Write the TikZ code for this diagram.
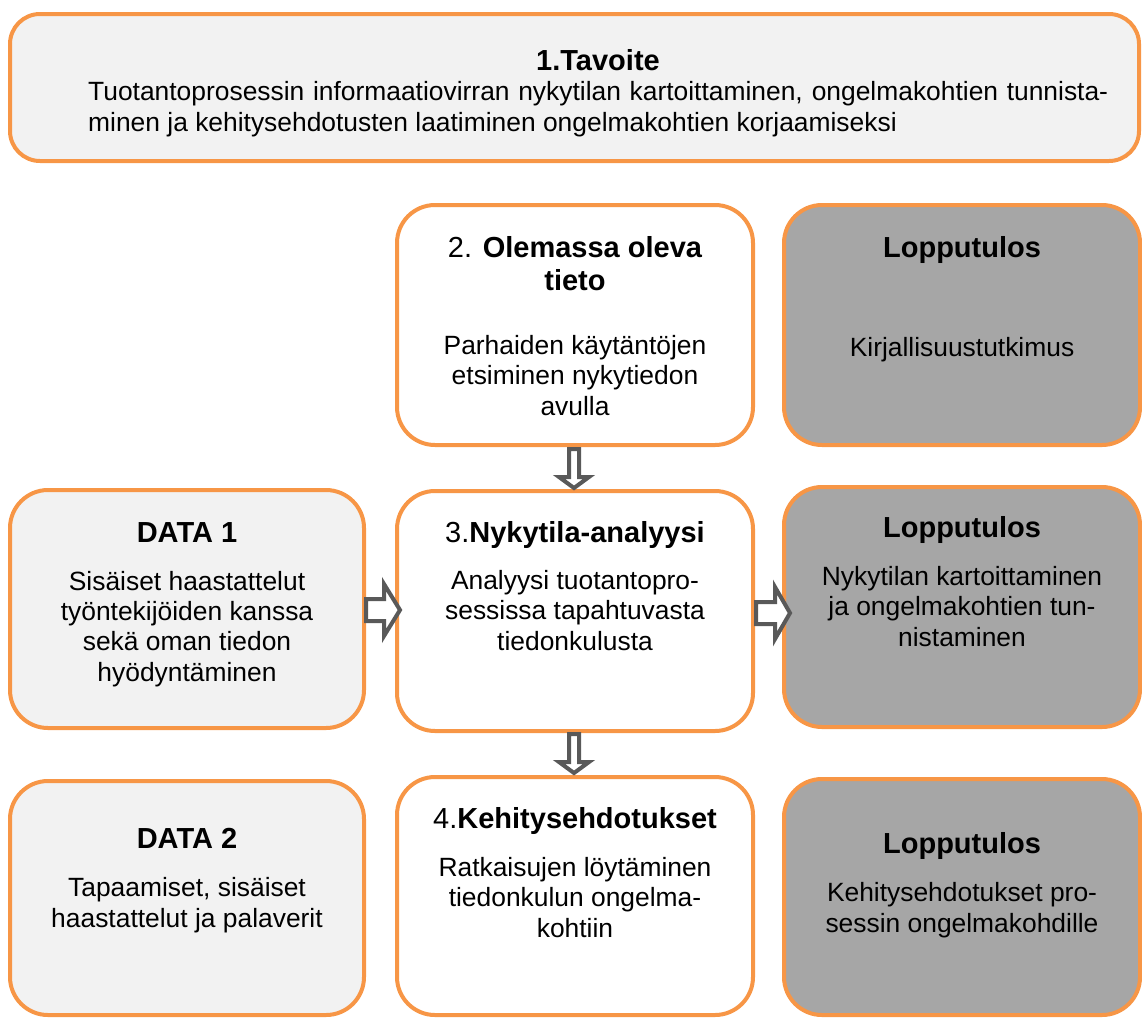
\documentclass[tikz,border=0pt]{standalone}
\usepackage{fontspec}
\setmainfont{Liberation Sans}
\usetikzlibrary{calc}
\definecolor{orng}{HTML}{F79646}
\definecolor{lightfill}{HTML}{F2F2F2}
\definecolor{darkfill}{HTML}{A6A6A6}
\definecolor{arrowgray}{HTML}{595959}
\tikzset{
  box/.style={draw=orng, line width=4pt, rounded corners=38pt, rectangle, inner sep=0pt},
  boxdata/.style={box, fill=lightfill},
  boxstep/.style={box, fill=white},
  boxres/.style={box, fill=darkfill},
  head/.style={anchor=base, align=center, inner sep=0pt, font=\fontsize{29}{33}\selectfont\bfseries},
  body/.style={anchor=base, align=center, inner sep=0pt, font=\fontsize{26.4}{30.3}\selectfont},
  blockarrow/.style={draw=arrowgray, fill=white, line width=4pt, line join=miter}
}
\begin{document}
\begin{tikzpicture}[x=1pt, y=-1pt]
\useasboundingbox (0,0) rectangle (1142,1018);
% boxes
\node[boxdata, rounded corners=30pt, minimum width=1129pt, minimum height=147pt] (top) at (574.5,87.5) {};
\node[boxstep, minimum width=356pt, minimum height=240pt] (b2) at (575,325) {};
\node[boxres,  minimum width=356pt, minimum height=240pt] (l1) at (962,325) {};
\node[boxdata, minimum width=354pt, minimum height=238pt] (d1) at (187,609) {};
\node[boxstep, minimum width=356pt, minimum height=240pt] (b3) at (575,611) {};
\node[boxres,  minimum width=356pt, minimum height=240pt] (l2) at (962,607) {};
\node[boxdata, minimum width=354pt, minimum height=234pt] (d2) at (187,898) {};
\node[boxstep, minimum width=356pt, minimum height=238pt] (b4) at (575,896) {};
\node[boxres,  minimum width=356pt, minimum height=236pt] (l3) at (962,897) {};
% texts (multi-line nodes: base anchor = baseline of the last line)
\node[head] (toph) at (598,70) {1.Tavoite};
\node[body, anchor=base west] (topb1) at (88,100) {\makebox[1020pt][s]{Tuotantoprosessin informaatiovirran nykytilan kartoittaminen, ongelmakohtien tunnista-}};
\node[body, anchor=base west] (topb2) at (88,131) {minen ja kehitysehdotusten laatiminen ongelmakohtien korjaamiseksi};
\node[head] (b2h) at (575,290) {{\mdseries 2.} Olemassa oleva\\tieto};
\node[body] (b2b) at (575,415) {Parhaiden käytäntöjen\\etsiminen nykytiedon\\avulla};
\node[head] (l1h) at (962,257) {Lopputulos};
\node[body] (l1b) at (962,356) {Kirjallisuustutkimus};
\node[head] (d1h) at (187,542) {DATA 1};
\node[body] (d1b) at (187,681) {Sisäiset haastattelut\\työntekijöiden kanssa\\sekä oman tiedon\\hyödyntäminen};
\node[head] (b3h) at (575,542) {{\mdseries 3.}Nykytila-analyysi};
\node[body] (b3b) at (575,650) {Analyysi tuotantopro-\\sessissa tapahtuvasta\\tiedonkulusta};
\node[head] (l2h) at (962,537) {Lopputulos};
\node[body] (l2b) at (962,646) {Nykytilan kartoittaminen\\ja ongelmakohtien tun-\\nistaminen};
\node[head] (d2h) at (187,848) {DATA 2};
\node[body] (d2b) at (187,927) {Tapaamiset, sisäiset\\haastattelut ja palaverit};
\node[head] (b4h) at (575,828) {{\mdseries 4.}Kehitysehdotukset};
\node[body] (b4b) at (575,937) {Ratkaisujen löytäminen\\tiedonkulun ongelma-\\kohtiin};
\node[head] (l3h) at (962,853) {Lopputulos};
\node[body] (l3b) at (962,932) {Kehitysehdotukset pro-\\sessin ongelmakohdille};
% block arrows
\draw[blockarrow] ($(b2.south)+(-6,2)$) -- ($(b2.south)+(-6,30)$) -- ($(b2.south)+(-16,30)$)
  -- ($(b3.north)+(-1,-1)$) -- ($(b2.south)+(14,30)$) -- ($(b2.south)+(4,30)$) -- ($(b2.south)+(4,2)$) -- cycle;
\draw[blockarrow] ($(b3.south)+(-6,1)$) -- ($(b3.south)+(-6,29)$) -- ($(b3.south)+(-16,29)$)
  -- ($(b4.north)+(-1,-2)$) -- ($(b3.south)+(14,29)$) -- ($(b3.south)+(4,29)$) -- ($(b3.south)+(4,1)$) -- cycle;
\draw[blockarrow] ($(d1.east)+(0,-10)$) -- ($(d1.east)+(18,-10)$) -- ($(d1.east)+(18,-25)$)
  -- ($(b3.west |- d1.east)+(5,1)$) -- ($(d1.east)+(18,27)$) -- ($(d1.east)+(18,12)$) -- ($(d1.east)+(0,12)$) -- cycle;
\draw[blockarrow] ($(b3.east)+(1,-9)$) -- ($(b3.east)+(20,-9)$) -- ($(b3.east)+(20,-24)$)
  -- ($(l2.west |- b3.east)+(8,2)$) -- ($(b3.east)+(20,28)$) -- ($(b3.east)+(20,13)$) -- ($(b3.east)+(1,13)$) -- cycle;
\end{tikzpicture}
\end{document}
